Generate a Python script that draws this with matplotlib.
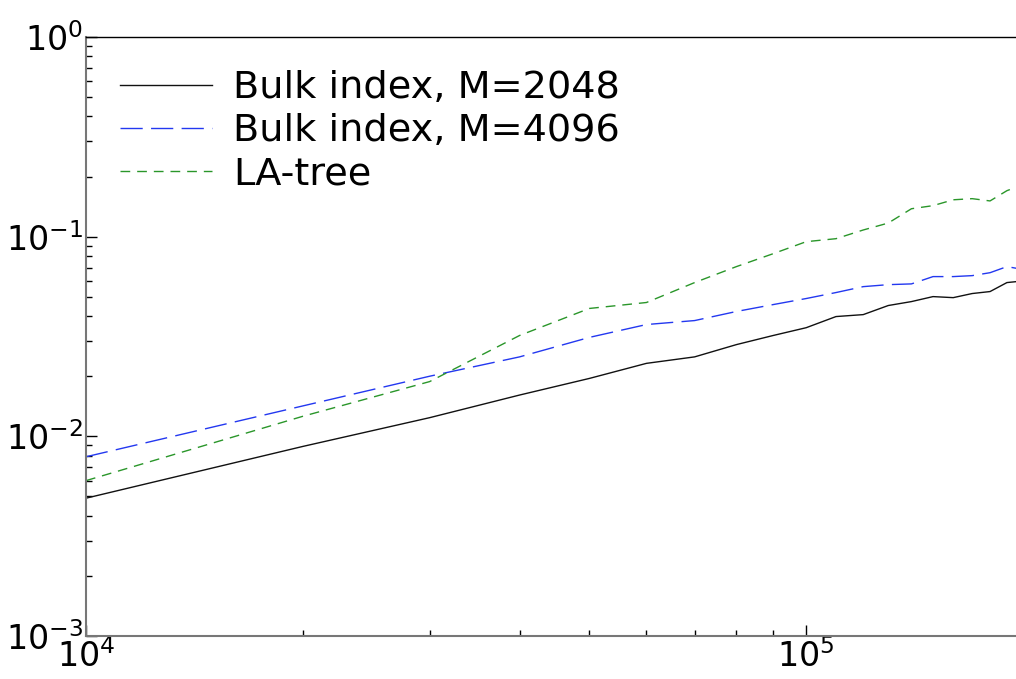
import numpy as np
import matplotlib
matplotlib.use("Agg")
import matplotlib.pyplot as plt
from matplotlib.ticker import LogLocator, NullFormatter, FuncFormatter

plt.rcParams["axes.unicode_minus"] = False

# data
n_items = [1e4, 2e4, 3e4, 4e4, 5e4, 6e4, 7e4, 8e4, 9e4, 1e5,
           1.1e5, 1.2e5, 1.3e5, 1.4e5, 1.5e5, 1.6e5, 1.7e5, 1.8e5, 1.9e5, 2e5]

bulk_2048 = [0.0049, 0.0089, 0.0124, 0.0161, 0.0195, 0.0232, 0.0250, 0.0288, 0.0320, 0.0350,
             0.0398, 0.0407, 0.0452, 0.0473, 0.0501, 0.0495, 0.0519, 0.0531, 0.0589, 0.0600]
bulk_4096 = [0.0079, 0.0142, 0.0200, 0.0250, 0.0313, 0.0363, 0.0380, 0.0422, 0.0457, 0.0490,
             0.0525, 0.0562, 0.0575, 0.0580, 0.0631, 0.0631, 0.0638, 0.0660, 0.0708, 0.0685]
la_tree = [0.0060, 0.0126, 0.0188, 0.0320, 0.0437, 0.0468, 0.0589, 0.0708, 0.0822, 0.0944,
           0.0977, 0.1080, 0.1170, 0.1380, 0.1430, 0.1530, 0.1550, 0.1510, 0.1700, 0.1820]


def pow10(v, pos):
    return "$\\mathregular{10^{%d}}$" % int(round(np.log10(v)))


fig = plt.figure(figsize=(10.16, 6.79), dpi=100)
ax = fig.add_axes([86/1016, 43/679, 937/1016, 599/679])

ax.plot(n_items, bulk_2048, color="#111111", lw=1.0, label="Bulk index, M=2048")
ax.plot(n_items, bulk_4096, color="#2338f0", lw=1.0, dashes=(16, 6),
        label="Bulk index, M=4096")
ax.plot(n_items, la_tree, color="#2a962a", lw=1.0, dashes=(7, 5),
        label="LA-tree")

ax.set_xscale("log")
ax.set_yscale("log")
ax.set_xlim(1e4, 2e5)
ax.set_ylim(1e-3, 1)

ax.yaxis.set_major_locator(LogLocator(base=10, numticks=10))
ax.yaxis.set_minor_locator(LogLocator(base=10, subs=np.arange(2, 10), numticks=10))
ax.yaxis.set_major_formatter(FuncFormatter(pow10))
ax.xaxis.set_major_formatter(FuncFormatter(pow10))
ax.yaxis.set_minor_formatter(NullFormatter())
ax.xaxis.set_minor_formatter(NullFormatter())

ax.tick_params(which="both", direction="in", labelsize=24, top=False, right=False)
ax.tick_params(which="major", length=8, width=1)
ax.tick_params(which="minor", length=4, width=1)
ax.tick_params(axis="y", which="major", pad=2)
ax.tick_params(axis="x", which="major", pad=2)

ax.spines["left"].set_color("#777777")
ax.spines["bottom"].set_color("#777777")
ax.spines["left"].set_linewidth(1.5)
ax.spines["bottom"].set_linewidth(1.5)
ax.spines["top"].set_linewidth(1.0)
ax.spines["right"].set_visible(False)

ax.legend(loc="upper left", frameon=False, fontsize=27.5,
          handlelength=2.4, handletextpad=0.55, labelspacing=0.19,
          borderaxespad=0.4, bbox_to_anchor=(0.004, 0.996))

fig.savefig("out.png", dpi=100)
